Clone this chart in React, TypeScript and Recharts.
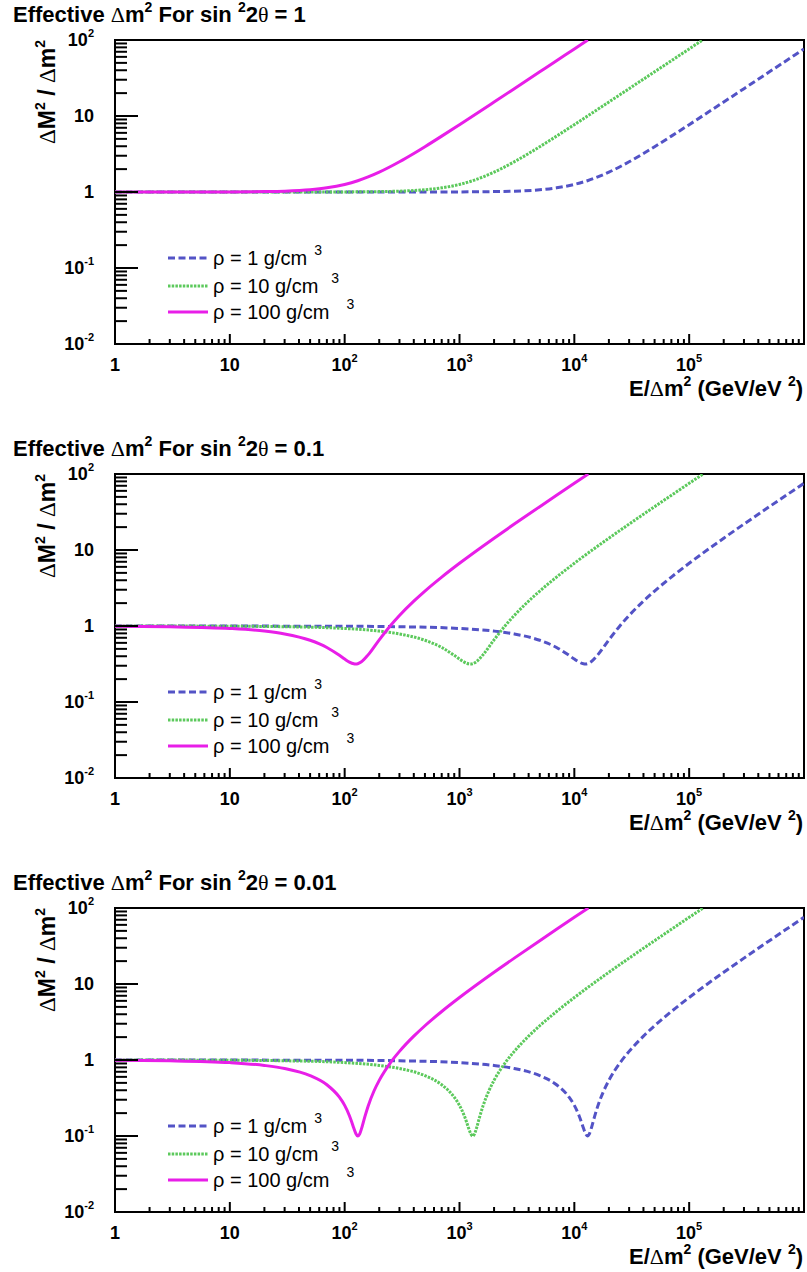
import React from "react";
import { LineChart, Line, XAxis, YAxis, ReferenceArea } from "recharts";

type Pt = [number, number];

// sin^2 2θ = 1
const rho100Mix1: Pt[] = [[1, 1], [10, 1.003], [20, 1.012], [30, 1.026], [50, 1.07], [70, 1.134], [100, 1.258], [130, 1.408], [160, 1.578], [200, 1.824], [300, 2.498], [400, 3.212], [500, 3.944], [700, 5.434], [1000, 7.695], [2000, 15.29], [3000, 22.91], [5000, 38.16], [7000, 53.42], [10000, 76.31], [13100, 100]];
const rho10Mix1: Pt[] = [[1, 1], [10, 1], [100, 1.003], [200, 1.012], [300, 1.026], [500, 1.07], [700, 1.134], [1000, 1.258], [1300, 1.408], [1600, 1.578], [2000, 1.824], [3000, 2.498], [4000, 3.212], [5000, 3.944], [7000, 5.434], [10000, 7.695], [20000, 15.29], [30000, 22.91], [50000, 38.16], [70000, 53.42], [100000, 76.31], [131000, 100]];
const rho1Mix1: Pt[] = [[1, 1], [100, 1], [1000, 1.003], [2000, 1.012], [3000, 1.026], [5000, 1.07], [7000, 1.134], [10000, 1.258], [13000, 1.408], [16000, 1.578], [20000, 1.824], [30000, 2.498], [40000, 3.212], [50000, 3.944], [70000, 5.434], [100000, 7.695], [200000, 15.29], [300000, 22.91], [500000, 38.16], [700000, 53.42], [1000000, 76.31]];

// sin^2 2θ = 0.1
const rho100Mix01: Pt[] = [[1, 0.993], [3, 0.978], [10, 0.928], [20, 0.857], [30, 0.786], [50, 0.649], [70, 0.522], [90, 0.411], [100, 0.367], [110, 0.335], [120, 0.318], [125, 0.316], [130, 0.319], [140, 0.338], [160, 0.417], [200, 0.658], [250, 1.01], [300, 1.377], [400, 2.127], [500, 2.884], [700, 4.404], [1000, 6.689], [2000, 14.31], [3000, 21.94], [5000, 37.2], [7000, 52.46], [10000, 75.35], [13230, 100]];
const rho10Mix01: Pt[] = [[1, 1], [10, 0.993], [30, 0.978], [100, 0.928], [200, 0.857], [300, 0.786], [500, 0.649], [700, 0.522], [900, 0.411], [1000, 0.367], [1100, 0.335], [1200, 0.318], [1250, 0.316], [1300, 0.319], [1400, 0.338], [1600, 0.417], [2000, 0.658], [2500, 1.01], [3000, 1.377], [4000, 2.127], [5000, 2.884], [7000, 4.404], [10000, 6.689], [20000, 14.31], [30000, 21.94], [50000, 37.2], [70000, 52.46], [100000, 75.35], [132300, 100]];
const rho1Mix01: Pt[] = [[1, 1], [100, 0.993], [300, 0.978], [1000, 0.928], [2000, 0.857], [3000, 0.786], [5000, 0.649], [7000, 0.522], [9000, 0.411], [10000, 0.367], [11000, 0.335], [12000, 0.318], [12500, 0.316], [13000, 0.319], [14000, 0.338], [16000, 0.417], [20000, 0.658], [25000, 1.01], [30000, 1.377], [40000, 2.127], [50000, 2.884], [70000, 4.404], [100000, 6.689], [200000, 14.31], [300000, 21.94], [500000, 37.2], [700000, 52.46], [1000000, 75.35]];

// sin^2 2θ = 0.01
const rho100Mix001: Pt[] = [[1, 0.992], [3, 0.977], [10, 0.924], [20, 0.848], [30, 0.773], [50, 0.622], [70, 0.472], [90, 0.324], [100, 0.253], [110, 0.185], [115, 0.154], [120, 0.127], [125, 0.108], [130, 0.1], [135, 0.106], [140, 0.124], [150, 0.18], [160, 0.247], [180, 0.391], [200, 0.54], [250, 0.919], [300, 1.298], [400, 2.059], [500, 2.822], [700, 4.347], [1000, 6.636], [2000, 14.27], [3000, 21.9], [5000, 37.16], [7000, 52.42], [10000, 75.31], [13240, 100]];
const rho10Mix001: Pt[] = [[1, 1], [10, 0.992], [30, 0.977], [100, 0.924], [200, 0.848], [300, 0.773], [500, 0.622], [700, 0.472], [900, 0.324], [1000, 0.253], [1100, 0.185], [1150, 0.154], [1200, 0.127], [1250, 0.108], [1300, 0.1], [1350, 0.106], [1400, 0.124], [1500, 0.18], [1600, 0.247], [1800, 0.391], [2000, 0.54], [2500, 0.919], [3000, 1.298], [4000, 2.059], [5000, 2.822], [7000, 4.347], [10000, 6.636], [20000, 14.27], [30000, 21.9], [50000, 37.16], [70000, 52.42], [100000, 75.31], [132400, 100]];
const rho1Mix001: Pt[] = [[1, 1], [100, 0.992], [300, 0.977], [1000, 0.924], [2000, 0.848], [3000, 0.773], [5000, 0.622], [7000, 0.472], [9000, 0.324], [10000, 0.253], [11000, 0.185], [11500, 0.154], [12000, 0.127], [12500, 0.108], [13000, 0.1], [13500, 0.106], [14000, 0.124], [15000, 0.18], [16000, 0.247], [18000, 0.391], [20000, 0.54], [25000, 0.919], [30000, 1.298], [40000, 2.059], [50000, 2.822], [70000, 4.347], [100000, 6.636], [200000, 14.27], [300000, 21.9], [500000, 37.16], [700000, 52.42], [1000000, 75.31]];

const mixings = ["1", "0.1", "0.01"];
const densities = ["1", "10", "100"];

const xMajor = [1, 10, 100, 1000, 10000, 100000];
const xMajorLabels = ["1", "10", "10^2", "10^3", "10^4", "10^5"];
const yMajor = [0.01, 0.1, 1, 10, 100];
const yMajorLabels = ["10^-2", "10^-1", "1", "10", "10^2"];
const mantissas = [2, 3, 4, 5, 6, 7, 8, 9];

const xTicks = [...xMajor, ...xMajor.flatMap((d) => mantissas.map((m) => m * d))];
const yTicks = [...yMajor, ...[0.01, 0.1, 1, 10].flatMap((d) => mantissas.map((m) => +(m * d).toPrecision(3)))];

const FONT = '"Liberation Sans", Arial, sans-serif';
const SERIF = '"Liberation Serif", "DejaVu Serif", serif';
const BLUE = "#5353c6";
const GREEN = "#5cc95c";
const MAGENTA = "#e81ee8";

const W = 807;
const H = 434;

function powLabel(label: string) {
  const [base, exp] = label.split("^");
  if (!exp) return base;
  return (
    <>
      {base}
      <tspan dy={-9} fontSize={11}>{exp}</tspan>
    </>
  );
}

function XTick(props: any) {
  const { x, y, payload } = props;
  const i = xMajor.indexOf(payload.value);
  const major = i >= 0;
  return (
    <g>
      <line x1={x} x2={x} y1={y} y2={y - (major ? 10 : 5)} stroke="#000" strokeWidth={2} />
      {major && (
        <text x={x} y={y + 27} textAnchor="middle" fontSize={18} fontWeight="bold" fontFamily={FONT} fill="#000">
          {powLabel(xMajorLabels[i])}
        </text>
      )}
    </g>
  );
}

function YTick(props: any) {
  const { x, y, payload } = props;
  const i = yMajor.indexOf(payload.value);
  const major = i >= 0;
  return (
    <g>
      <line x1={x} x2={x + (major ? 23 : 12)} y1={y} y2={y} stroke="#000" strokeWidth={2} />
      {major && (
        <text x={x - 21} y={y + 6} textAnchor="end" fontSize={18} fontWeight="bold" fontFamily={FONT} fill="#000">
          {powLabel(yMajorLabels[i])}
        </text>
      )}
    </g>
  );
}

const toRows = (pts: Pt[]) => pts.map(([e, r]) => ({ e, r }));

const legendRows = [
  { color: BLUE, dash: "7 3.5", dx: 7 },
  { color: GREEN, dash: "2.5 1.2", dx: 13 },
  { color: MAGENTA, dash: undefined, dx: 17 },
];

function Overlay({ mixing }: { mixing: string }) {
  const sup = (s: string) => (
    <tspan dy={-10} fontSize={14}>{s}</tspan>
  );
  return (
    <svg width={W} height={H} style={{ position: "absolute", left: 0, top: 0, pointerEvents: "none" }}>
      <text x={13} y={22} fontSize={22} fontWeight="bold" fontFamily={FONT} fill="#000">
        {"Effective "}
        <tspan fontFamily={SERIF} fontWeight="normal">Δ</tspan>
        {"m"}
        {sup("2")}
        <tspan dy={10}>{" For sin "}</tspan>
        {sup("2")}
        <tspan dy={10}>2</tspan>
        <tspan fontFamily={SERIF} fontWeight="normal">θ</tspan>
        {" = " + mixing}
      </text>
      <text transform="rotate(-90)" x={-40} y={55} textAnchor="end" fontSize={23} fontWeight="bold" fontFamily={FONT} fill="#000">
        <tspan fontFamily={SERIF} fontWeight="normal">Δ</tspan>
        {"M"}
        {sup("2")}
        <tspan dy={10}>{" / "}</tspan>
        <tspan fontFamily={SERIF} fontWeight="normal">Δ</tspan>
        {"m"}
        {sup("2")}
      </text>
      <text x={803} y={396} textAnchor="end" fontSize={22} fontWeight="bold" fontFamily={FONT} fill="#000">
        {"E/"}
        <tspan fontFamily={SERIF} fontWeight="normal">Δ</tspan>
        {"m"}
        {sup("2")}
        <tspan dy={10}>{" (GeV/eV "}</tspan>
        {sup("2")}
        <tspan dy={10}>{")"}</tspan>
      </text>
      {legendRows.map((row, i) => {
        const cy = [258, 286, 312][i];
        return (
          <g key={i}>
            <line x1={168} x2={208} y1={cy} y2={cy} stroke={row.color} strokeWidth={3} strokeDasharray={row.dash} />
            <text x={213} y={cy + 7} fontSize={20} fontFamily={FONT} fill="#000">
              {"ρ = " + densities[i] + " g/cm"}
              <tspan dx={row.dx} dy={-10} fontSize={14}>3</tspan>
            </text>
          </g>
        );
      })}
    </svg>
  );
}

function Panel({ mixing, series }: { mixing: string; series: Pt[][] }) {
  return (
    <div style={{ position: "relative", width: W, height: H }}>
      <LineChart width={W} height={H} margin={{ top: 40, right: 3, bottom: 40, left: 15 }}>
        <XAxis
          dataKey="e"
          type="number"
          scale="log"
          domain={[1, 1000000]}
          allowDataOverflow
          ticks={xTicks}
          interval={0}
          height={50}
          tickSize={0}
          tickMargin={0}
          tickLine={false}
          axisLine={false}
          tick={(p: any) => <XTick {...p} />}
        />
        <YAxis
          type="number"
          scale="log"
          domain={[0.01, 100]}
          allowDataOverflow
          ticks={yTicks}
          interval={0}
          width={100}
          tickSize={0}
          tickMargin={0}
          tickLine={false}
          axisLine={false}
          tick={(p: any) => <YTick {...p} />}
        />
        <ReferenceArea x1={1} x2={1000000} y1={0.01} y2={100} fill="none" stroke="#000" strokeWidth={2} />
        <Line data={toRows(series[0])} dataKey="r" type="monotone" stroke={BLUE} strokeWidth={3} strokeDasharray="7 3.5" dot={false} isAnimationActive={false} />
        <Line data={toRows(series[1])} dataKey="r" type="monotone" stroke={GREEN} strokeWidth={3} strokeDasharray="2.5 1.2" dot={false} isAnimationActive={false} />
        <Line data={toRows(series[2])} dataKey="r" type="monotone" stroke={MAGENTA} strokeWidth={3} dot={false} isAnimationActive={false} />
      </LineChart>
      <Overlay mixing={mixing} />
    </div>
  );
}

export default function App() {
  const panels = [
    [rho1Mix1, rho10Mix1, rho100Mix1],
    [rho1Mix01, rho10Mix01, rho100Mix01],
    [rho1Mix001, rho10Mix001, rho100Mix001],
  ];
  return (
    <div style={{ position: "absolute", left: 0, top: 0, width: W, height: 1272, overflow: "hidden", background: "#fff", fontFamily: FONT }}>
      {panels.map((s, i) => (
        <Panel key={i} mixing={mixings[i]} series={s} />
      ))}
    </div>
  );
}
